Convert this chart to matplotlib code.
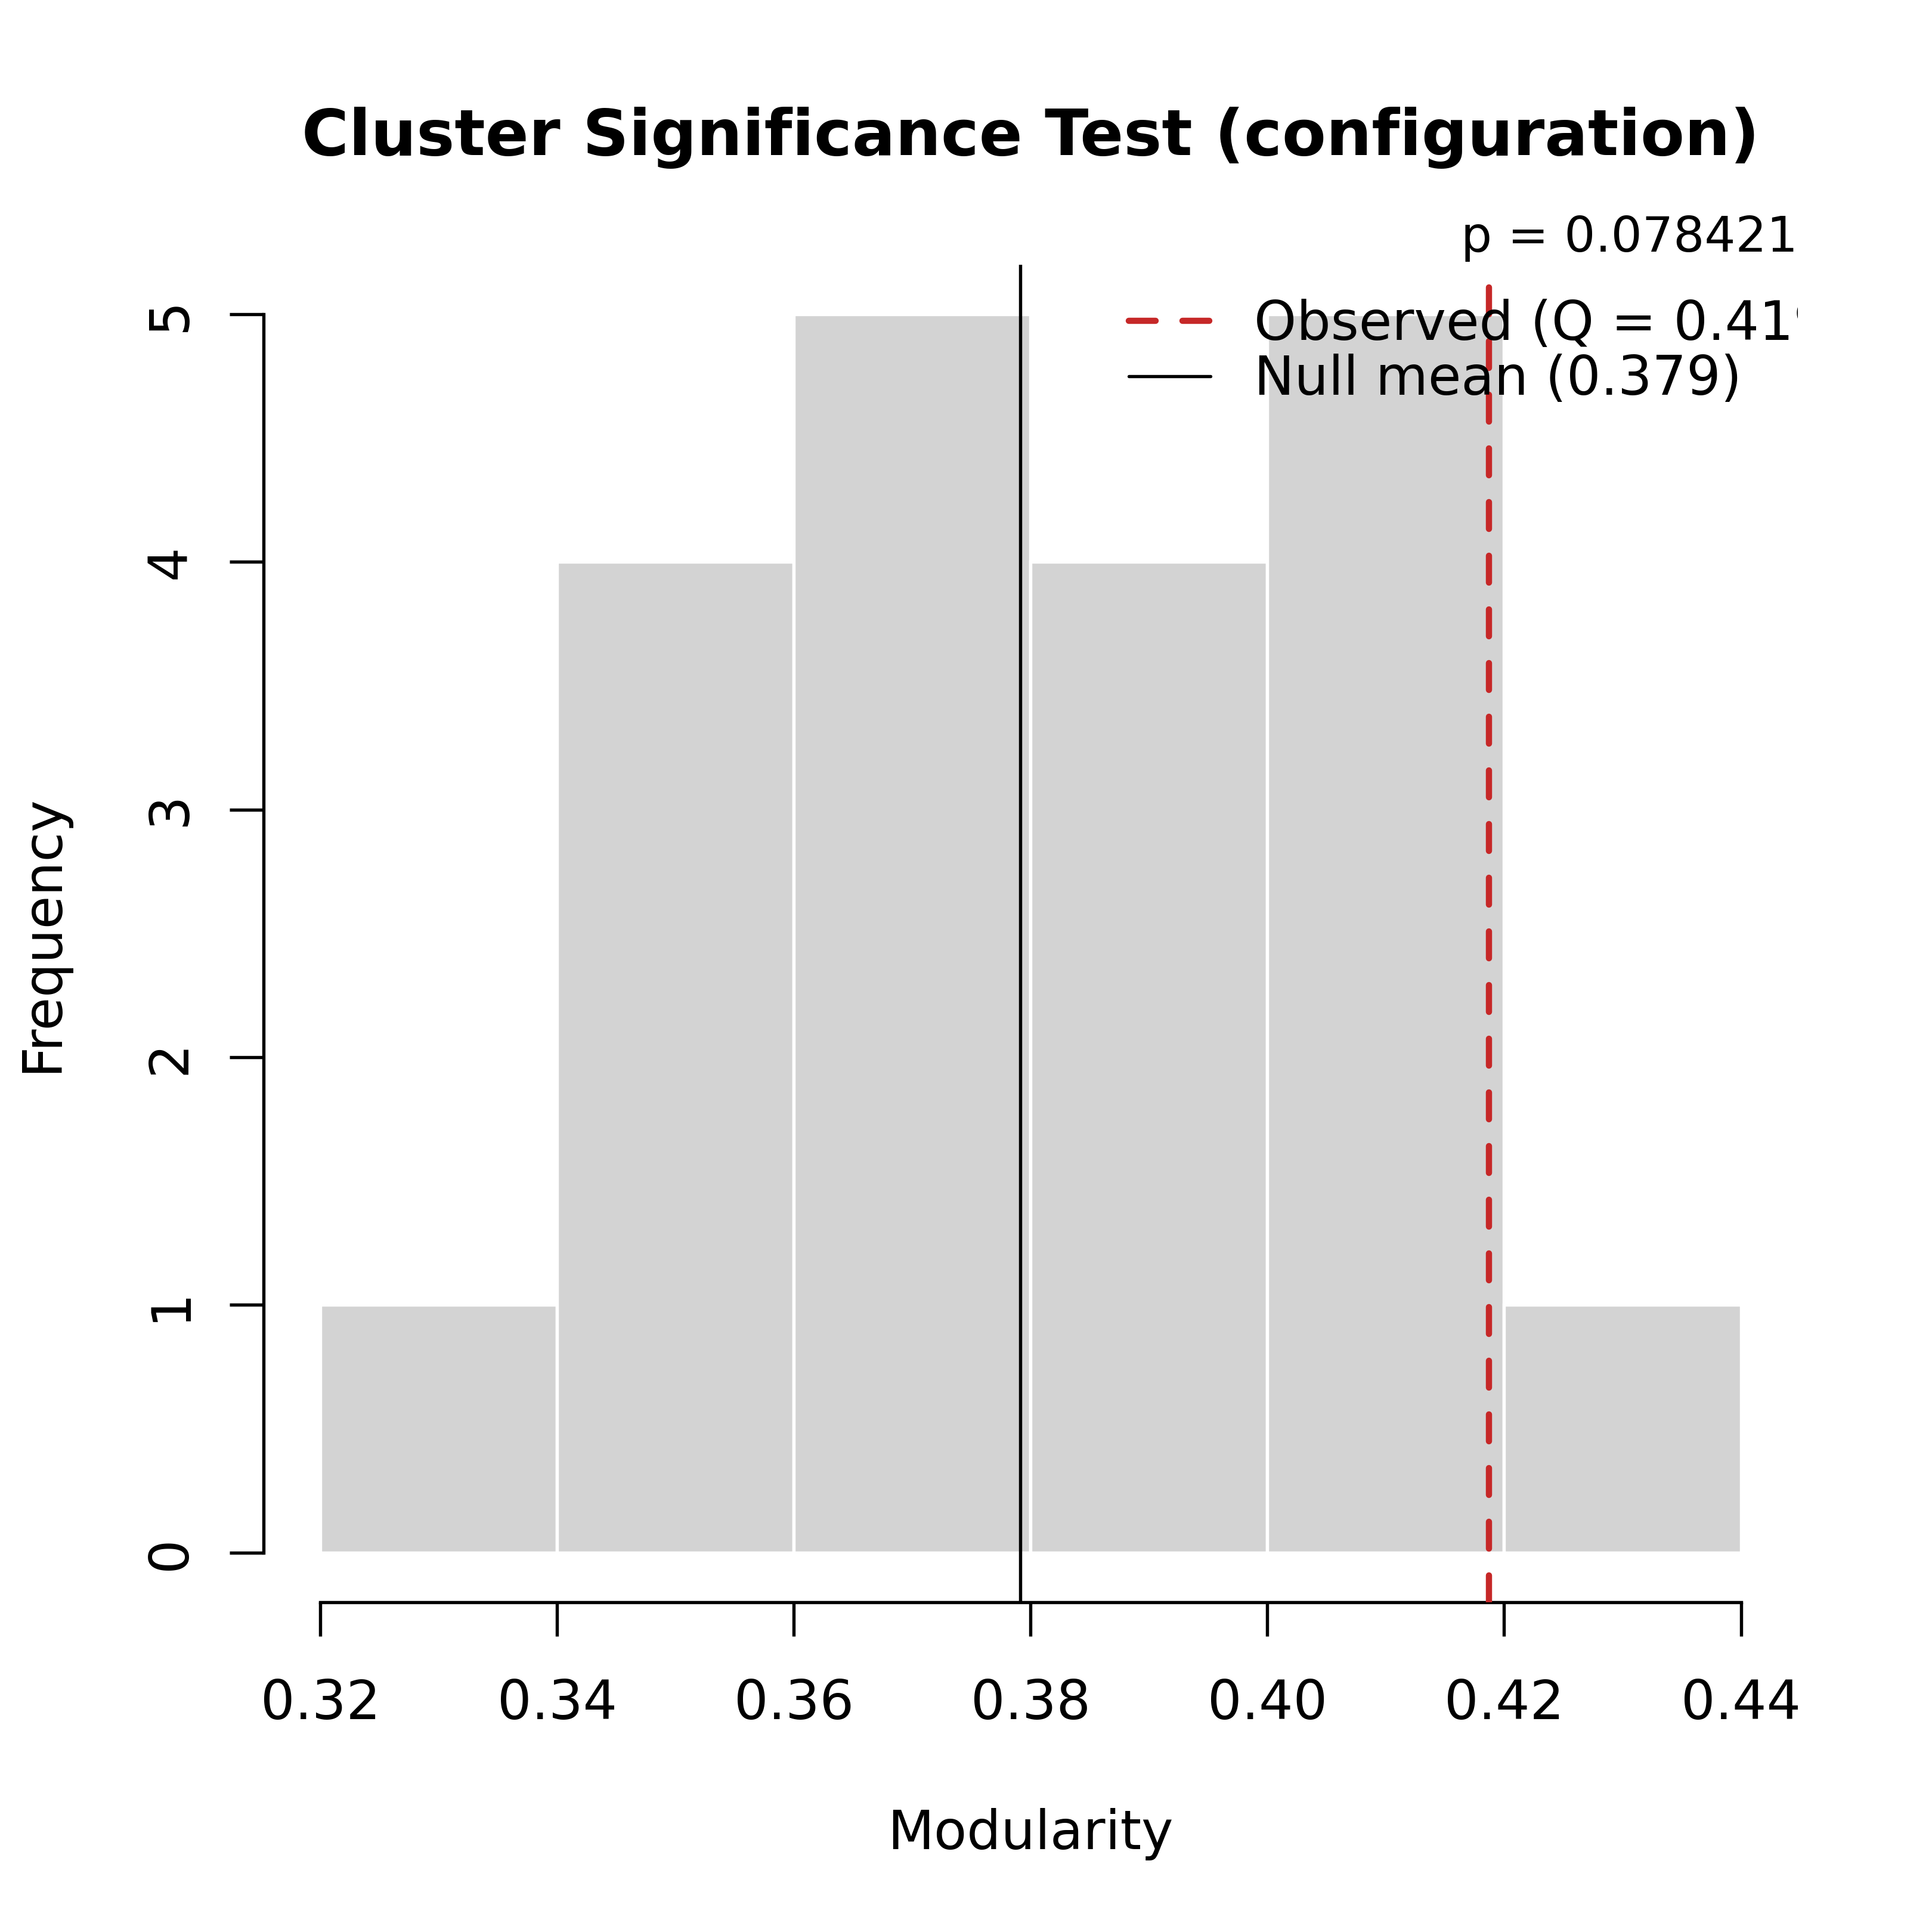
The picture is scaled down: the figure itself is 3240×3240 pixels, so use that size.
import numpy as np
import matplotlib
matplotlib.use("Agg")
import matplotlib.pyplot as plt
from matplotlib.lines import Line2D

# histogram of the null modularity values
bin_edges = [0.32, 0.34, 0.36, 0.38, 0.40, 0.42, 0.44]
counts = [1, 4, 5, 4, 5, 1]
observed_q = 0.4187
null_mean = 0.3791
p_value = 0.078421

x_ticks = [0.32, 0.34, 0.36, 0.38, 0.40, 0.42, 0.44]
x_tick_labels = ["0.32", "0.34", "0.36", "0.38", "0.40", "0.42", "0.44"]
y_ticks = [0, 1, 2, 3, 4, 5]

title = "Cluster Significance Test (configuration)"
obs_label = "Observed (Q = %.3f)" % observed_q
null_label = "Null mean (%.3f)" % null_mean

RED = "#C62828"
BAR = "#D3D3D3"
LW = 1.3
FS = 21.7
DASH = (0, (4.32, 4.32))

plt.rcParams['font.family'] = ['DejaVu Sans']

fig = plt.figure(figsize=(10.8, 10.8), dpi=300)
ax = fig.add_axes([0.1364, 0.1707, 0.9305 - 0.1364, 0.8630 - 0.1707])

ax.bar(bin_edges[:-1], counts, width=np.diff(bin_edges), align='edge',
       color=BAR, edgecolor='white', linewidth=LW, zorder=1)

# R-like usr range: 4% padding
xr = bin_edges[-1] - bin_edges[0]
ax.set_xlim(bin_edges[0] - 0.04 * xr, bin_edges[-1] + 0.04 * xr)
ax.set_ylim(-0.04 * max(counts), max(counts) * 1.04)

ax.axvline(observed_q, color=RED, lw=2.5, linestyle=DASH,
           dash_capstyle='round', zorder=3)
ax.axvline(null_mean, color='black', lw=LW, zorder=3)

for s in ['top', 'right']:
    ax.spines[s].set_visible(False)
ax.spines['left'].set_bounds(y_ticks[0], y_ticks[-1])
ax.spines['bottom'].set_bounds(x_ticks[0], x_ticks[-1])
for s in ['left', 'bottom']:
    ax.spines[s].set_linewidth(LW)

ax.set_xticks(x_ticks)
ax.set_xticklabels(x_tick_labels)
ax.set_yticks(y_ticks)
ax.set_yticklabels([str(v) for v in y_ticks], rotation=90, va='center')
ax.tick_params(axis='both', direction='out', length=13.7, width=LW,
               labelsize=FS, colors='black')
ax.tick_params(axis='x', pad=16.8)
ax.tick_params(axis='y', pad=13.2)

ax.set_xlabel("Modularity", fontsize=FS)
ax.xaxis.set_label_coords(0.5, -0.1538)
ax.set_ylabel("Frequency", fontsize=FS)
ax.yaxis.set_label_coords(-0.127, 0.5)

ax.text(0.5, 1.082, title, transform=ax.transAxes, ha='center',
        va='baseline', fontsize=25.8, fontweight='bold')
ax.text(1.0, 1.0098, "p = %.6f" % p_value, transform=ax.transAxes,
        ha='right', va='baseline', fontsize=19.7)

handles = [
    Line2D([], [], color=RED, lw=2.5, linestyle=DASH,
           dash_capstyle='round', solid_capstyle='round'),
    Line2D([], [], color='black', lw=LW, solid_capstyle='round'),
]
leg = ax.legend(handles, [obs_label, null_label], loc='upper left',
                bbox_to_anchor=(0.5640, 0.9746), frameon=False, fontsize=FS,
                handlelength=1.52, handletextpad=0.80, borderpad=0,
                borderaxespad=0, labelspacing=0.05)
leg.set_zorder(5)
# R clips the legend to the plot region
for t in leg.get_texts():
    t.set_clip_box(ax.bbox)
    t.set_clip_on(True)

fig.savefig("out.png", dpi=300)
